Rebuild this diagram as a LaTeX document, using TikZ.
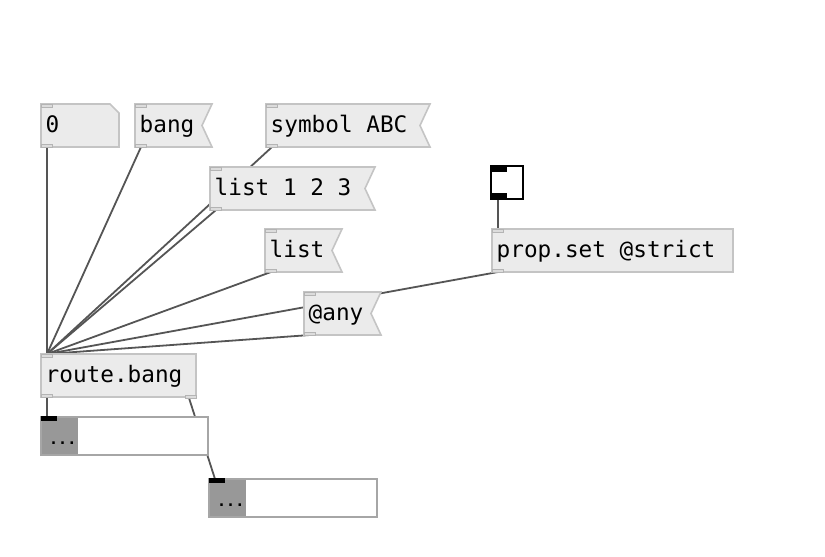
\documentclass[tikz,border=0pt]{standalone}
\usepackage{fontspec}
\setmonofont{DejaVu Sans Mono}
\definecolor{boxedge}{HTML}{C4C4C4}
\definecolor{boxfill}{HTML}{EBEBEB}
\definecolor{portedge}{HTML}{B4B4B4}
\definecolor{portfill}{HTML}{DCDCDC}
\definecolor{wirecol}{HTML}{555555}
\definecolor{atomedge}{HTML}{A6A6A6}
\definecolor{atomgray}{HTML}{989898}
\pgfdeclarelayer{wires}
\pgfsetlayers{wires,main}
\tikzset{
  pdbox/.style={draw=boxedge, fill=boxfill, line width=1.6},
  pdport/.style={draw=portedge, fill=portfill, line width=0.8},
  pdwire/.style={draw=wirecol, line width=1.8},
  pdlabel/.style={font=\ttfamily\fontsize{22.7}{23}\selectfont, text=black, inner sep=0, anchor=base west},
  pddots/.style={font=\ttfamily\bfseries\fontsize{15}{15}\selectfont, text=black, inner sep=0, anchor=base west},
}
% inlet and outlet on the left edge of a box of height 43
\newcommand\pdports[3]{%
  \draw[pdport] (#2,#3) rectangle ({#2+11},{#3+3});
  \draw[pdport] (#2,{#3+40}) rectangle ({#2+11},{#3+43});
  \coordinate (#1-in) at ({#2+6},#3);
  \coordinate (#1-out) at ({#2+6},{#3+43});
}
% message box: name, x, y, width, text
\newcommand\pdmsg[5]{%
  \draw[pdbox] (#2,#3) -- ({#2+#4},#3) -- ({#2+#4-10},{#3+21.5}) -- ({#2+#4},{#3+43}) -- (#2,{#3+43}) -- cycle;
  \pdports{#1}{#2}{#3}
  \node[pdlabel] (#1) at ({#2+4.5},{#3+28.5}) {#5};
}
% object box: name, x, y, width, text
\newcommand\pdobj[5]{%
  \draw[pdbox] (#2,#3) rectangle ({#2+#4},{#3+43});
  \pdports{#1}{#2}{#3}
  \node[pdlabel] (#1) at ({#2+4.5},{#3+28.5}) {#5};
}
% number atom: name, x, y, width, text
\newcommand\pdfloat[5]{%
  \draw[pdbox] (#2,#3) -- ({#2+#4-9},#3) -- ({#2+#4},{#3+9}) -- ({#2+#4},{#3+43}) -- (#2,{#3+43}) -- cycle;
  \pdports{#1}{#2}{#3}
  \node[pdlabel] (#1) at ({#2+4.5},{#3+28.5}) {#5};
}
% list display: name, x, y, width
\newcommand\pdlistbox[4]{%
  \fill[white] (#2,#3) rectangle ({#2+#4},{#3+38});
  \fill[atomgray] (#2,#3) rectangle ({#2+37},{#3+38});
  \draw[atomedge, line width=1.6] (#2,#3) rectangle ({#2+#4},{#3+38});
  \fill[black] (#2,{#3-1}) rectangle ({#2+16},{#3+3.5});
  \node[pddots] (#1) at ({#2+8},{#3+27}) {...};
  \coordinate (#1-in) at ({#2+6},#3);
}
\begin{document}
\begin{tikzpicture}[x=1pt,y=-1pt]
\useasboundingbox (0,0) rectangle (825,557);

% sources
\pdfloat{zero}{41}{104}{78}{0}
\pdmsg{bang}{135}{104}{77}{bang}
\pdmsg{sym}{266}{104}{164}{symbol ABC}
\pdmsg{lst}{210}{167}{165}{list 1 2 3}
\pdmsg{lone}{265}{229}{77}{list}
\pdmsg{any}{304}{292}{77}{@any}

% toggle feeding prop.set
\draw[black, line width=2, fill=white] (491,166) rectangle (523,199);
\fill[black] (491,166) rectangle (507,172);
\fill[black] (491,193) rectangle (507,199);
\node[inner sep=0, minimum size=0] (tgl) at (507,182.5) {};
\coordinate (tgl-out) at (498,199);
\pdobj{prop}{492}{229}{241}{prop.set @strict}

% router and its outputs
\pdobj{route}{41}{354}{155}{route.bang}
\draw[pdport] (185,395) rectangle (196,398);
\coordinate (route-outr) at (189,398);
\pdlistbox{outa}{41}{417}{167}
\pdlistbox{outb}{209}{479}{168}

\begin{pgfonlayer}{wires}
  \draw[pdwire] (zero-out) -- (route-in);
  \draw[pdwire] (bang-out) -- (route-in);
  \draw[pdwire] (sym-out) -- (route-in);
  \draw[pdwire] (lst-out) -- (route-in);
  \draw[pdwire] (lone-out) -- (route-in);
  \draw[pdwire] (any-out) -- (route-in);
  \draw[pdwire] (prop-out) -- (route-in);
  \draw[pdwire] (tgl-out) -- (prop-in);
  \draw[pdwire] (route-out) -- (outa-in);
  \draw[pdwire] (route-outr) -- (outb-in);
\end{pgfonlayer}
\end{tikzpicture}
\end{document}
